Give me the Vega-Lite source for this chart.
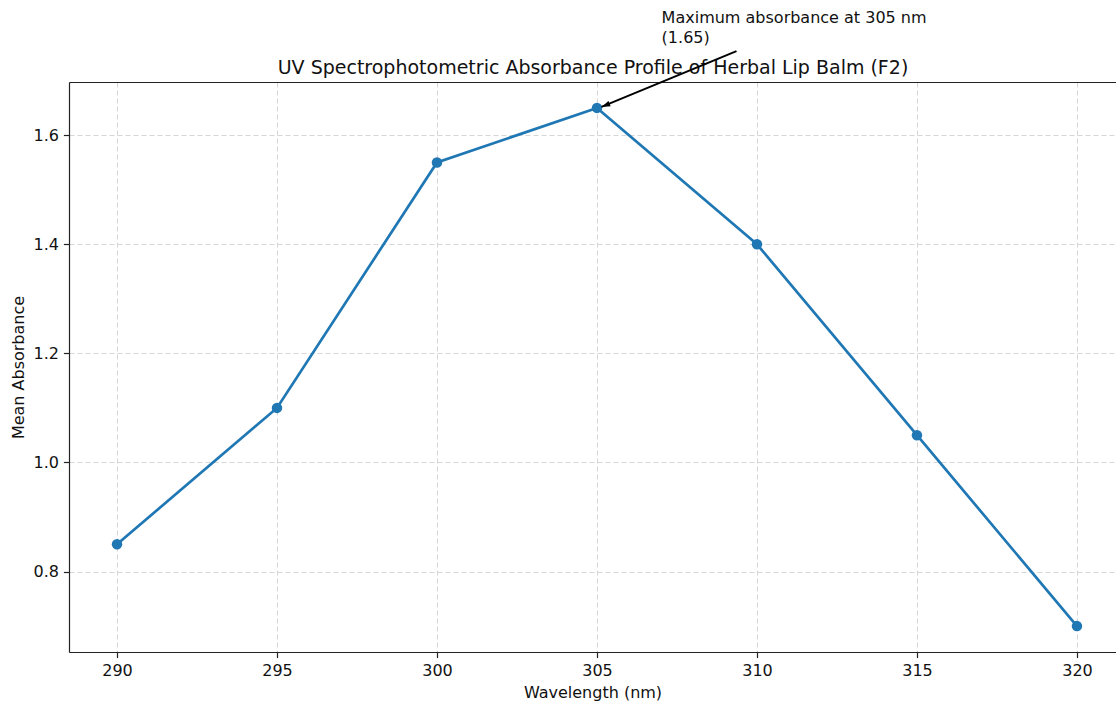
{
  "$schema": "https://vega.github.io/schema/vega-lite/v6.json",
  "width": 1047,
  "height": 570,
  "autosize": {"type": "none"},
  "padding": {"left": 69, "top": 82, "right": 0, "bottom": 57},
  "background": "white",
  "config": {
    "font": "DejaVu Sans",
    "view": {"stroke": null},
    "axis": {
      "domainColor": "#222222",
      "domainWidth": 1.2,
      "tickColor": "#222222",
      "tickWidth": 1.2,
      "tickSize": 5.6,
      "labelPadding": 5,
      "labelFont": "DejaVu Sans",
      "labelFontSize": 16,
      "labelColor": "#111111",
      "titleFont": "DejaVu Sans",
      "titleFontSize": 16,
      "titleFontWeight": "normal",
      "titleColor": "#111111",
      "titlePadding": 6,
      "gridColor": "#d6d6d6",
      "gridDash": [5, 3],
      "gridWidth": 1
    }
  },
  "datasets": {
    "spectrum": [
      {"wavelength": 290, "absorbance": 0.85},
      {"wavelength": 295, "absorbance": 1.10},
      {"wavelength": 300, "absorbance": 1.55},
      {"wavelength": 305, "absorbance": 1.65},
      {"wavelength": 310, "absorbance": 1.40},
      {"wavelength": 315, "absorbance": 1.05},
      {"wavelength": 320, "absorbance": 0.70}
    ],
    "note": [
      {"x": 307.02, "y": 1.806, "label": "Maximum absorbance at 305 nm"},
      {"x": 307.02, "y": 1.769, "label": "(1.65)"}
    ],
    "arrow": [
      {"x": 309.36, "y": 1.754, "x2": 305.14, "y2": 1.6518}
    ]
  },
  "resolve": {"axis": {"x": "independent"}},
  "layer": [
    {
      "data": {"name": "spectrum"},
      "mark": {"type": "line", "color": "#1f77b4", "strokeWidth": 2.7},
      "encoding": {
        "x": {
          "field": "wavelength",
          "type": "quantitative",
          "scale": {"domain": [288.5, 321.22], "nice": false, "zero": false},
          "axis": {"values": [290, 295, 300, 305, 310, 315, 320], "title": "Wavelength (nm)", "grid": true, "orient": "bottom"}
        },
        "y": {
          "field": "absorbance",
          "type": "quantitative",
          "scale": {"domain": [0.6525, 1.6975], "nice": false, "zero": false},
          "axis": {"values": [0.8, 1.0, 1.2, 1.4, 1.6], "format": ".1f", "title": "Mean Absorbance", "grid": true}
        }
      }
    },
    {
      "data": {"name": "spectrum"},
      "mark": {"type": "point", "filled": true, "shape": "circle", "size": 110, "color": "#1f77b4", "opacity": 1},
      "encoding": {
        "x": {
          "field": "wavelength",
          "type": "quantitative",
          "axis": {
            "orient": "top",
            "labels": false,
            "ticks": false,
            "grid": false,
            "domain": true,
            "title": "UV Spectrophotometric Absorbance Profile of Herbal Lip Balm (F2)",
            "titleFontSize": 19,
            "titlePadding": 5
          }
        },
        "y": {"field": "absorbance", "type": "quantitative"}
      }
    },
    {
      "data": {"name": "arrow"},
      "mark": {"type": "rule", "color": "#000000", "strokeWidth": 2},
      "encoding": {
        "x": {"field": "x", "type": "quantitative", "axis": null},
        "y": {"field": "y", "type": "quantitative"},
        "x2": {"field": "x2"},
        "y2": {"field": "y2"}
      }
    },
    {
      "data": {"name": "arrow"},
      "mark": {"type": "point", "shape": "M-0.7,2.2L0,0L0.7,2.2Z", "filled": true, "color": "#000000", "size": 64, "angle": 247.5, "opacity": 1},
      "encoding": {
        "x": {"field": "x2", "type": "quantitative", "axis": null},
        "y": {"field": "y2", "type": "quantitative"}
      }
    },
    {
      "data": {"name": "note"},
      "mark": {"type": "text", "align": "left", "baseline": "alphabetic", "fontSize": 16, "font": "DejaVu Sans", "color": "#111111"},
      "encoding": {
        "x": {"field": "x", "type": "quantitative", "axis": null},
        "y": {"field": "y", "type": "quantitative"},
        "text": {"field": "label"}
      }
    }
  ]
}
